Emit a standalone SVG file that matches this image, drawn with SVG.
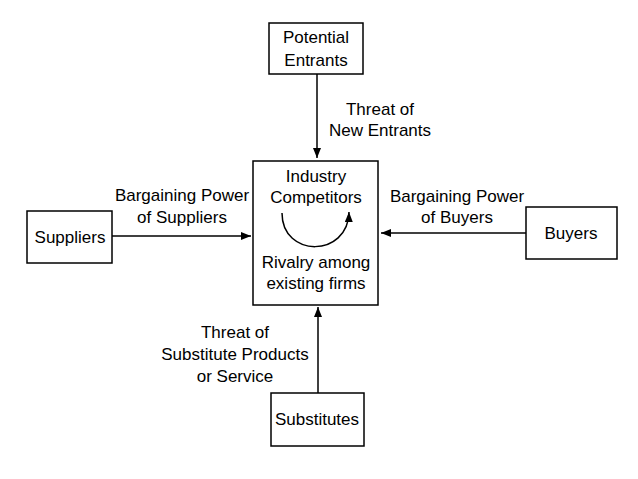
<svg xmlns="http://www.w3.org/2000/svg" width="638" height="479" viewBox="0 0 638 479">
<style>
.box{fill:#fff;stroke:#000;stroke-width:1.5}
.t{font-family:"Liberation Sans",Arial,sans-serif;font-size:17px;fill:#000;text-anchor:middle}
.c{fill:none;stroke:#000;stroke-width:1.5}
</style>
<defs>
<marker id="ah" viewBox="0 0 10 8" refX="10" refY="4" markerWidth="10" markerHeight="8" markerUnits="userSpaceOnUse" orient="auto">
<path d="M0,0 L10,4 L0,8 Z" fill="#000"/>
</marker>
</defs>
<rect width="638" height="479" fill="#fff"/>
<g id="connectors">
<line class="c" x1="317" y1="74" x2="317" y2="158" marker-end="url(#ah)"/>
<line class="c" x1="112" y1="236" x2="251" y2="236" marker-end="url(#ah)"/>
<line class="c" x1="526" y1="233" x2="381" y2="233" marker-end="url(#ah)"/>
<line class="c" x1="318" y1="393" x2="318" y2="307" marker-end="url(#ah)"/>
<text class="t" x="380" y="115">Threat of</text>
<text class="t" x="380" y="136">New Entrants</text>
<text class="t" x="182" y="201">Bargaining Power</text>
<text class="t" x="182" y="223">of Suppliers</text>
<text class="t" x="457" y="202">Bargaining Power</text>
<text class="t" x="457" y="223">of Buyers</text>
<text class="t" x="235" y="338">Threat of</text>
<text class="t" x="235" y="360">Substitute Products</text>
<text class="t" x="235" y="382">or Service</text>
</g>
<g id="potential-entrants">
<rect class="box" x="269" y="23" width="94" height="51"/>
<text class="t" x="316" y="43">Potential</text>
<text class="t" x="316" y="66">Entrants</text>
</g>
<g id="industry-competitors">
<rect class="box" x="253" y="161" width="125" height="144"/>
<text class="t" x="316" y="182">Industry</text>
<text class="t" x="316" y="203">Competitors</text>
<path class="c" d="M282,213 C282,258 348,258 349,212" marker-end="url(#ah)"/>
<text class="t" x="316" y="268">Rivalry among</text>
<text class="t" x="316" y="289">existing firms</text>
</g>
<g id="suppliers">
<rect class="box" x="27" y="211" width="85" height="52"/>
<text class="t" x="70" y="243">Suppliers</text>
</g>
<g id="buyers">
<rect class="box" x="526" y="207" width="91" height="52"/>
<text class="t" x="571" y="239">Buyers</text>
</g>
<g id="substitutes">
<rect class="box" x="271" y="393" width="93" height="53"/>
<text class="t" x="317" y="425">Substitutes</text>
</g>
</svg>
